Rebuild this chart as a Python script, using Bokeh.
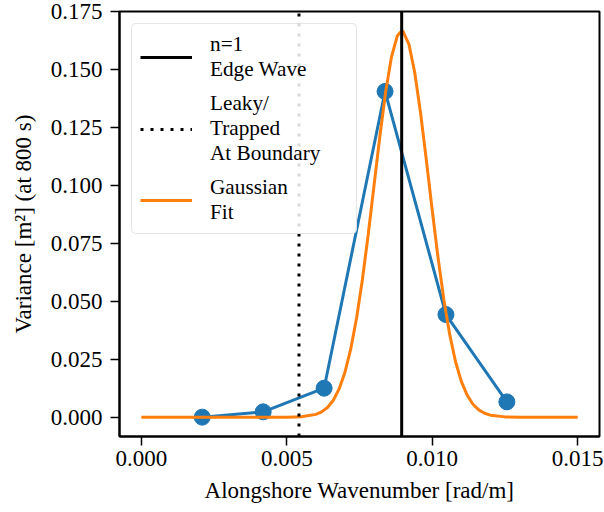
from bokeh.plotting import figure
from bokeh.models import Range1d, FixedTicker, PrintfTickFormatter, Legend, LegendItem
from bokeh.embed import file_html
from bokeh.resources import INLINE

# ---- data ----
wavenumber = [0.002094, 0.004189, 0.006283, 0.008378, 0.010472, 0.012566]
variance = [0.0000, 0.0023, 0.0125, 0.1406, 0.0443, 0.0066]

fit_k = [0.0, 0.001, 0.002, 0.003, 0.004, 0.005, 0.0055,
         0.0060, 0.0062, 0.0064, 0.0066, 0.0068, 0.0070, 0.0072, 0.0074,
         0.0076, 0.0078, 0.0080, 0.0082, 0.0084, 0.0086, 0.0088, 0.00895,
         0.0090, 0.0092, 0.0094, 0.0096, 0.0098, 0.0100, 0.0102, 0.0104,
         0.0106, 0.0108, 0.0110, 0.0112, 0.0114, 0.0116, 0.0118, 0.0120,
         0.0125, 0.0130, 0.0140, 0.0150]
fit_var = [0.0, 0.0, 0.0, 0.0, 0.0, 0.00002, 0.00020,
           0.00121, 0.00231, 0.00420, 0.00733, 0.01219, 0.01939, 0.02946, 0.04281,
           0.05943, 0.07886, 0.10004, 0.12126, 0.14048, 0.15553, 0.16459, 0.16670,
           0.16646, 0.16091, 0.14865, 0.13125, 0.11076, 0.08933, 0.06885, 0.05073,
           0.03572, 0.02404, 0.01546, 0.00950, 0.00558, 0.00314, 0.00168, 0.00086,
           0.00013, 0.00002, 0.0, 0.0]

edge_wave_k = 0.00895
boundary_k = 0.00542

x_ticks = [0.0, 0.005, 0.010, 0.015]
y_ticks = [0.0, 0.025, 0.050, 0.075, 0.100, 0.125, 0.150, 0.175]

x_lo, x_hi = -0.00075, 0.01575
y_lo, y_hi = -0.00834, 0.17510

legend_labels = ["n=1\nEdge Wave", "Leaky/\nTrapped\nAt Boundary", "Gaussian\nFit"]

FONT = "Liberation Serif"
BLUE = "#1f77b4"
ORANGE = "#ff7f0e"

p = figure(width=604, height=512, output_backend="svg", toolbar_location=None,
           x_range=Range1d(x_lo, x_hi), y_range=Range1d(y_lo, y_hi),
           min_border_left=119, min_border_right=5, min_border_top=11,
           min_border_bottom=76)
p.background_fill_color = "white"
p.border_fill_color = "white"
p.outline_line_color = "black"
p.outline_line_width = 2
p.xgrid.visible = False
p.ygrid.visible = False

# data
p.line(wavenumber, variance, line_color=BLUE, line_width=3)
p.scatter(wavenumber, variance, size=16, fill_color=BLUE, line_color=BLUE)
r_fit = p.line(fit_k, fit_var, line_color=ORANGE, line_width=3)
r_edge = p.line([edge_wave_k, edge_wave_k], [y_lo, y_hi], line_color="black", line_width=3)
r_bnd = p.line([boundary_k, boundary_k], [y_lo, y_hi], line_color="black", line_width=3,
               line_dash="3 7")

# axes
for ax in (p.xaxis[0], p.yaxis[0]):
    ax.axis_line_width = 2
    ax.major_tick_line_width = 1.5
    ax.major_tick_out = 9
    ax.major_tick_in = 0
    ax.minor_tick_line_color = None
    ax.major_label_text_font = FONT
    ax.major_label_text_font_size = "23px"
    ax.major_label_text_color = "black"
    ax.axis_label_text_font = FONT
    ax.axis_label_text_font_size = "23px"
    ax.axis_label_text_font_style = "normal"
    ax.axis_label_text_color = "black"
    ax.formatter = PrintfTickFormatter(format="%.3f")

p.xaxis[0].ticker = FixedTicker(ticks=x_ticks)
p.yaxis[0].ticker = FixedTicker(ticks=y_ticks)
p.xaxis[0].axis_label = "Alongshore Wavenumber [rad/m]"
p.yaxis[0].axis_label = "Variance [m²] (at 800 s)"
p.xaxis[0].major_label_standoff = 5
p.xaxis[0].axis_label_standoff = 9
p.yaxis[0].major_label_standoff = 8
p.yaxis[0].axis_label_standoff = 12

legend = Legend(items=[LegendItem(label=legend_labels[0], renderers=[r_edge]),
                       LegendItem(label=legend_labels[1], renderers=[r_bnd]),
                       LegendItem(label=legend_labels[2], renderers=[r_fit])],
                location="top_left")
legend.margin = 12
legend.padding = 8
legend.spacing = 9
legend.glyph_width = 52
legend.glyph_height = 20
legend.label_height = 20
legend.label_width = 138
legend.label_standoff = 18
legend.label_text_font = FONT
legend.label_text_font_size = "21.25px"
legend.label_text_color = "black"
legend.label_text_line_height = 1.0
legend.border_line_color = "#cccccc"
legend.border_line_width = 1.5
legend.background_fill_alpha = 0.85
try:
    legend.border_radius = 5
except Exception:
    pass
p.add_layout(legend)

open("out.html", "w").write(file_html(p, INLINE))
